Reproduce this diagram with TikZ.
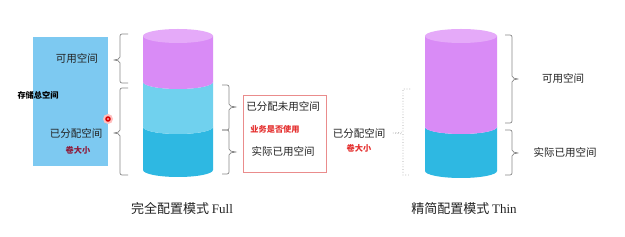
\documentclass[tikz,border=0pt]{standalone}
\usepackage{fontspec}
\setmainfont{Noto Sans CJK SC}
\newfontfamily\latinserif{Liberation Serif}
\definecolor{boxblue}{HTML}{7DC9F1}
\definecolor{purpbody}{HTML}{D98BF6}
\definecolor{purptop}{HTML}{E5AAF9}
\definecolor{cyanlight}{HTML}{70D1EE}
\definecolor{cyandark}{HTML}{2EB8E2}
\definecolor{darkred}{HTML}{8E1B3B}
\definecolor{redt}{HTML}{E5302F}
\definecolor{boxred}{HTML}{EA8C8C}
\definecolor{brgray}{HTML}{8A8A8A}
\definecolor{txt}{HTML}{222222}
\begin{document}
\begin{tikzpicture}[x=1pt,y=-1pt,
  lbl/.style={inner sep=0pt,text=txt,font=\fontsize{10.5}{12}\selectfont},
  smallb/.style={inner sep=0pt,font=\fontsize{8.2}{10}\selectfont\bfseries},
  captext/.style={inner sep=0pt,text=txt,font=\fontsize{13}{15}\selectfont},
  brk/.style={draw=brgray,line width=0.7pt,rounded corners=2pt},
  brkdot/.style={draw=brgray!80,line width=0.7pt,dotted}]
\useasboundingbox[fill=white] (0,0) rectangle (625,237);
% left blue box
\fill[boxblue] (33,37) rectangle (108,166);
\node[lbl] (avail1) at (77,59) {可用空间};
\node[smallb,text=black] (total) at (38,95) {存储总空间};
\node[lbl] (alloc1) at (76,133) {已分配空间};
\node[smallb,text=darkred] (vol1) at (78,150) {卷大小};
% red dot
\fill[red!25] (108,119) circle[radius=5pt];
\fill[red!85!black] (108,119) circle[radius=2.8pt];
\fill[white] (108,119) circle[radius=0.9pt];
% left braces
\draw[brk] (128,34) -- (120,34) -- (120,59) -- (113,60) -- (120,61) -- (120,83) -- (128,83);
\draw[brk] (128,88) -- (120,88) -- (120,132) -- (113,133) -- (120,134) -- (120,175) -- (128,175);
% cylinder 1
\fill[cyandark] (143,127) -- (143,170) arc[start angle=180,end angle=360,x radius=35pt,y radius=7pt] -- (213,127) arc[start angle=360,end angle=180,x radius=35pt,y radius=7pt] -- cycle;
\fill[cyanlight] (143,82) -- (143,127) arc[start angle=180,end angle=360,x radius=35pt,y radius=7pt] -- (213,82) arc[start angle=360,end angle=180,x radius=35pt,y radius=7pt] -- cycle;
\fill[purpbody] (143,36) -- (143,82) arc[start angle=180,end angle=360,x radius=35pt,y radius=7pt] -- (213,36) -- cycle;
\fill[purptop] (178,36) ellipse[x radius=35pt,y radius=7pt];
% right braces of cylinder 1
\draw[brk] (222,85) -- (229,85) -- (229,106) -- (237,107) -- (229,108) -- (229,130) -- (222,130);
\draw[brk] (222,130) -- (229,130) -- (229,151) -- (237,152) -- (229,153) -- (229,174) -- (222,174);
% red box
\draw[boxred,line width=0.8pt] (243,95) rectangle (326,172);
\node[lbl] (unused) at (283,107) {已分配未用空间};
\node[smallb,text=redt] (biz) at (275,129) {业务是否使用};
\node[lbl] (used1) at (283,152) {实际已用空间};
% middle
\node[lbl] (alloc2) at (359,133) {已分配空间};
\node[smallb,text=redt] (vol2) at (359,148) {卷大小};
\draw[brkdot] (410,89) -- (403,89) -- (403,132) -- (393,133) -- (403,134) -- (403,175) -- (410,175);
% cylinder 2
\fill[cyandark] (425,127) -- (425,171) arc[start angle=180,end angle=360,x radius=36pt,y radius=7pt] -- (497,127) arc[start angle=360,end angle=180,x radius=36pt,y radius=7pt] -- cycle;
\fill[purpbody] (425,36) -- (425,127) arc[start angle=180,end angle=360,x radius=36pt,y radius=7pt] -- (497,36) -- cycle;
\fill[purptop] (461,36) ellipse[x radius=36pt,y radius=7pt];
% right braces of cylinder 2
\draw[brk] (505,35) -- (512,35) -- (512,78) -- (519,79) -- (512,80) -- (512,123) -- (505,123);
\draw[brk] (505,130) -- (512,130) -- (512,152) -- (519,153) -- (512,154) -- (512,175) -- (505,175);
\node[lbl] (avail2) at (563,79) {可用空间};
\node[lbl] (used2) at (565,153) {实际已用空间};
% captions
\node[captext] (capfull) at (182,209) {完全配置模式 {\latinserif Full}};
\node[captext] (capthin) at (464,209) {精简配置模式 {\latinserif Thin}};
\end{tikzpicture}
\end{document}
